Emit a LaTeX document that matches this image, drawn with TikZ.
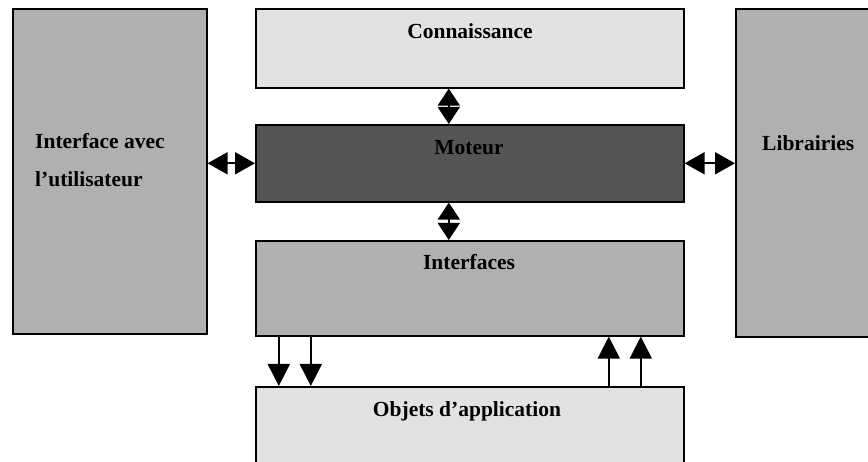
\documentclass[tikz,border=0pt]{standalone}
\usepackage{fontspec}
\setmainfont{Liberation Serif}
\usetikzlibrary{arrows.meta}
\definecolor{lightfill}{HTML}{E2E2E2}
\definecolor{midfill}{HTML}{B0B0B0}
\definecolor{darkfill}{HTML}{555555}
\tikzset{
  block/.style={draw=black, line width=1.6pt, rectangle, inner sep=0pt, anchor=north west},
  lbl/.style={inner sep=0pt, anchor=base, font=\fontsize{21.5}{25}\selectfont\bfseries},
  lblw/.style={lbl, anchor=base west},
  twoway/.style={line width=1.8pt, {Triangle[length=17pt,width=22pt]}-{Triangle[length=17pt,width=22pt]}},
  twowayh/.style={line width=1.8pt, {Triangle[length=20pt,width=22pt]}-{Triangle[length=20pt,width=22pt]}},
  oneway/.style={line width=1.8pt, -{Triangle[length=22pt,width=22pt]}}
}
\begin{document}
\begin{tikzpicture}[x=1pt,y=-1pt]
  \useasboundingbox (0,0) rectangle (868,462);
  \clip (0,0) rectangle (868,462);
  \fill[white] (0,0) rectangle (868,462);

  % blocks
  \node[block, fill=midfill,  minimum width=194pt, minimum height=325pt] (ui)  at (12,8)   {};
  \node[block, fill=lightfill, minimum width=428pt, minimum height=79pt]  (con) at (255,8)  {};
  \node[block, fill=darkfill,  minimum width=428pt, minimum height=77pt]  (mot) at (255,124) {};
  \node[block, fill=midfill,   minimum width=428pt, minimum height=95pt]  (itf) at (255,240) {};
  \node[block, fill=lightfill, minimum width=428pt, minimum height=100pt] (obj) at (255,386) {};
  \node[block, fill=midfill,   minimum width=160pt, minimum height=328pt] (lib) at (735,8)  {};

  % labels
  \node[lbl]  at (470,39)  {Connaissance};
  \node[lbl]  at (469,155) {Moteur};
  \node[lbl]  at (469,270) {Interfaces};
  \node[lbl]  at (467,417) {Objets d’application};
  \node[lblw] at (35,149)  {Interface avec};
  \node[lblw] at (35,187)  {l’utilisateur};
  \node[lblw] at (762,151) {Librairies};

  % two-way links around the engine
  \draw[twowayh] (ui.east |- mot.west) -- (mot.west);
  \draw[twowayh] (mot.east) -- (lib.west |- mot.east);
  \draw[twoway] ([xshift=-21pt]con.south) -- ([xshift=-21pt]mot.north);
  \draw[twoway] ([xshift=-21pt]mot.south) -- ([xshift=-21pt]itf.north);

  % links between interfaces and application objects
  \draw[oneway] ([xshift=-191pt]itf.south) -- ([xshift=-191pt]obj.north);
  \draw[oneway] ([xshift=-159pt]itf.south) -- ([xshift=-159pt]obj.north);
  \draw[oneway] ([xshift=139pt]obj.north) -- ([xshift=139pt]itf.south);
  \draw[oneway] ([xshift=171pt]obj.north) -- ([xshift=171pt]itf.south);
\end{tikzpicture}
\end{document}
